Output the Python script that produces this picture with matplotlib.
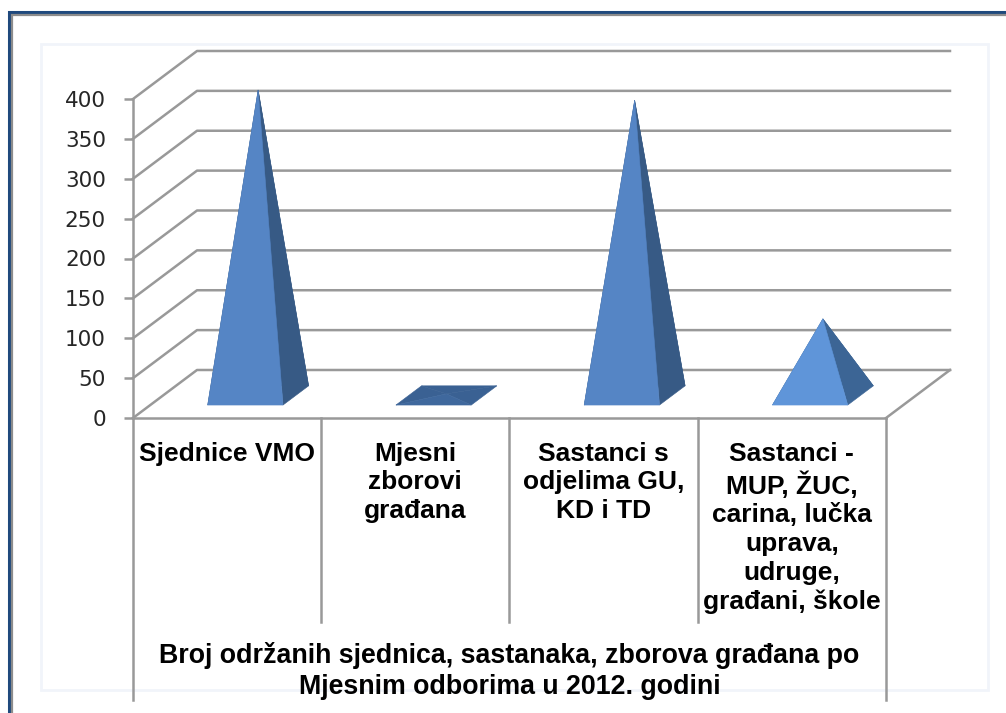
import matplotlib
matplotlib.use('Agg')
import matplotlib.pyplot as plt
from matplotlib.patches import Polygon, Rectangle

W, H = 1006, 713

categories = ['Sjednice VMO', 'Mjesni\nzborovi\ngrađana', 'Sastanci s\nodjelima GU,\nKD i TD',
              'Sastanci -\nMUP, ŽUC,\ncarina, lučka\nuprava,\nudruge,\ngrađani, škole']
values = [383, 2, 370, 96]
y_ticks = [0, 50, 100, 150, 200, 250, 300, 350, 400]
title = 'Broj održanih sjednica, sastanaka, zborova građana po\nMjesnim odborima u 2012. godini'

front_colors = ['#5585c5', '#3f689d', '#5585c5', '#5f95d9']
side_colors = ['#375a85', '#3a6193', '#375a85', '#3c6595']

grid_color = '#999999'
label_font = 'Liberation Sans'

# 3D look: how far the back wall sits from the front, in axis units
depth_x = 0.34
depth_y = 60.2

fig = plt.figure(figsize=(W / 100, H / 100), dpi=100, facecolor='white')
ax = fig.add_axes([133 / W, 1 - 418 / H, 753 / W, 319 / H])
ax.set_xlim(0, 4)
ax.set_ylim(0, 400)
ax.patch.set_visible(False)


def project(x, y, d):
    return (x + d * depth_x, y + d * depth_y)


# outer frame and faint chart area
fig.add_artist(Rectangle((9 / W, -0.01), 1.1, 1.01 - 12 / H, transform=fig.transFigure,
                         fill=False, edgecolor='#1f497d', lw=2.2))
fig.add_artist(Rectangle((12 / W, -0.01), 1.1, 1.01 - 15 / H, transform=fig.transFigure,
                         fill=False, edgecolor='#8c8c8c', lw=1.6))
fig.add_artist(Rectangle((41 / W, 1 - 690 / H), 947 / W, 646 / H, transform=fig.transFigure,
                         fill=False, edgecolor='#f1f4fa', lw=2, zorder=0))

# gridlines on the left wall and the back wall
for t in y_ticks:
    bx, by = project(0, t, 1)
    ex, ey = project(4, t, 1)
    ax.plot([0, bx, ex], [t, by, ey], color=grid_color, lw=1.8, clip_on=False, zorder=1)

# floor edge on the right
fx, fy = project(4, 0, 1)
ax.plot([4, fx], [0, fy], color=grid_color, lw=1.8, clip_on=False, zorder=1)

# category separators below the floor
ax.plot([0, 0], [0, -354], color=grid_color, lw=1.8, clip_on=False, zorder=1)
ax.plot([4, 4], [0, -354], color=grid_color, lw=1.8, clip_on=False, zorder=1)
for i in range(1, 4):
    ax.plot([i, i], [0, -256], color=grid_color, lw=1.8, clip_on=False, zorder=1)

# pyramids
half = 0.2
d_front = 0.27
d_back = 0.67
d_mid = (d_front + d_back) / 2
for i, v in enumerate(values):
    c = i + 0.505
    fl = project(c - half, 0, d_front)
    fr = project(c + half, 0, d_front)
    br = project(c + half, 0, d_back)
    bl = project(c - half, 0, d_back)
    apex = project(c, v, d_mid)
    # back faces first, they only show on the flat one
    for pts, col, z in [([bl, br, apex], side_colors[i], 3), ([fl, bl, apex], side_colors[i], 3),
                        ([fr, br, apex], side_colors[i], 4), ([fl, fr, apex], front_colors[i], 5)]:
        ax.add_patch(Polygon(pts, facecolor=col, edgecolor=col, lw=0.4, clip_on=False, zorder=z))

# axes
for s in ['top', 'right']:
    ax.spines[s].set_visible(False)
for s in ['left', 'bottom']:
    ax.spines[s].set_color(grid_color)
    ax.spines[s].set_linewidth(1.8)
ax.set_yticks(y_ticks)
ax.set_xticks([])
ax.tick_params(axis='y', length=6.5, width=1.8, color=grid_color, pad=13,
               labelsize=15.5, labelcolor='#262626')

# category labels
for i, name in enumerate(categories):
    ax.text(i + 0.5, -30, name, ha='center', va='top', fontsize=19, fontweight='bold',
            family=label_font, color='black', linespacing=1.24, clip_on=False)

ax.text(2, -317, title, ha='center', va='center', fontsize=19.3, fontweight='bold',
        family=label_font, color='black', linespacing=1.24, clip_on=False)

fig.savefig('out.png', dpi=100)
